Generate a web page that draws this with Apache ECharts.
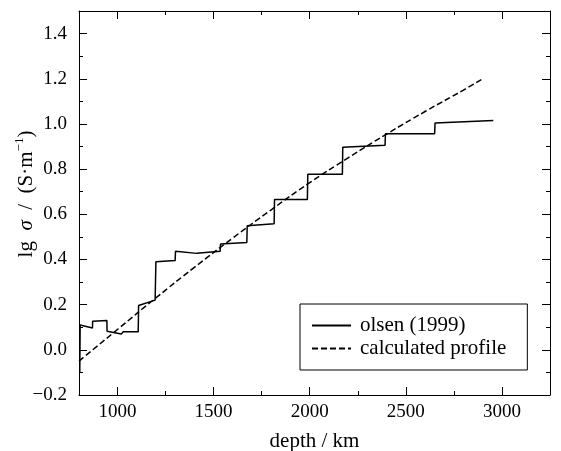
<!DOCTYPE html>
<html lang="en">
<head>
    <meta charset="UTF-8">
    <title>lg sigma vs depth</title>
    <script src="https://cdn.jsdelivr.net/npm/echarts@6.0.0/dist/echarts.min.js"></script>
    <style>
        html, body { margin: 0; padding: 0; background: #fff; }
    </style>
</head>
<body>
<div id="main" style="width: 561px;height:451px;"></div>

<script type="text/javascript">
    // data
    var olsenDepth = [804, 806, 870, 871, 945, 946, 1020, 1030, 1108, 1110, 1196, 1200, 1300, 1302, 1413, 1534, 1536, 1673, 1675, 1815, 1817, 1988, 1990, 2170, 2172, 2392, 2394, 2650, 2652, 2955];
    var olsenSigma = [-0.10, 0.11, 0.097, 0.127, 0.13, 0.082, 0.07, 0.08, 0.08, 0.196, 0.22, 0.39, 0.395, 0.436, 0.427, 0.436, 0.468, 0.475, 0.549, 0.558, 0.665, 0.665, 0.777, 0.777, 0.897, 0.906, 0.957, 0.957, 1.004, 1.015];

    var calcDepth = [800, 1000, 1200, 1400, 1600, 1800, 2000, 2200, 2400, 2600, 2800, 2900];
    var calcSigma = [-0.05, 0.09, 0.23, 0.365, 0.495, 0.62, 0.74, 0.85, 0.955, 1.055, 1.15, 1.20];

    var xMajor = [1000, 1500, 2000, 2500, 3000];
    var xMinor = [1250, 1750, 2250, 2750];

    function pairs(xs, ys) {
        var out = [];
        for (var i = 0; i < xs.length; i++) {
            out.push([xs[i], ys[i]]);
        }
        return out;
    }

    var font = 'Liberation Serif, Times New Roman, serif';
    var myChart = echarts.init(document.getElementById('main'));

    function xAx(pos, ticks, len, showLine, showLabel, name) {
        return {
            type: 'value',
            position: pos,
            min: 800,
            max: 3250,
            name: name || '',
            nameLocation: 'middle',
            nameGap: 36,
            nameMoveOverlap: false,
            nameTextStyle: { color: '#000', fontFamily: font, fontSize: 21 },
            axisLine: { show: showLine, onZero: false, lineStyle: { color: '#000', width: 1 } },
            axisTick: { show: true, inside: true, length: len, customValues: ticks, lineStyle: { color: '#000', width: 1 } },
            axisLabel: {
                show: showLabel, customValues: ticks, margin: 8, color: '#000', fontFamily: font, fontSize: 19,
                formatter: function (v) { return String(v); }
            },
            splitLine: { show: false }
        };
    }

    function yAx(pos, showLabel, name) {
        return {
            type: 'value',
            position: pos,
            min: -0.2,
            max: 1.5,
            interval: 0.2,
            name: name || '',
            nameLocation: 'middle',
            nameGap: 40,
            nameRotate: 90,
            nameMoveOverlap: false,
            nameTextStyle: {
                color: '#000',
                fontFamily: font,
                fontSize: 21,
                padding: [0, 0, 0, 18],
                rich: {
                    n: { fontFamily: font, fontSize: 21, lineHeight: 26, color: '#000' },
                    i: { fontFamily: font, fontSize: 21, fontStyle: 'italic', lineHeight: 26, color: '#000' },
                    s: { fontFamily: font, fontSize: 13, lineHeight: 14, verticalAlign: 'top', color: '#000' }
                }
            },
            axisLine: { show: true, onZero: false, lineStyle: { color: '#000', width: 1 } },
            axisTick: { show: true, inside: true, length: 8, lineStyle: { color: '#000', width: 1 } },
            minorTick: { show: true, splitNumber: 2, length: 4, lineStyle: { color: '#000', width: 1 } },
            axisLabel: {
                show: showLabel,
                margin: 12,
                color: '#000',
                fontFamily: font,
                fontSize: 19,
                showMaxLabel: false,
                formatter: function (v) {
                    var s = v.toFixed(1);
                    return s.charAt(0) === '-' ? '\u2212' + s.slice(1) : s;
                }
            },
            splitLine: { show: false },
            minorSplitLine: { show: false }
        };
    }

    var option = {
        animation: false,
        backgroundColor: '#fff',
        grid: { left: 79, right: 11, top: 11, bottom: 56, containLabel: false, outerBoundsMode: 'none' },
        legend: {
            left: 300,
            top: 304,
            orient: 'vertical',
            padding: [11, 21, 11, 11],
            itemWidth: 39,
            itemHeight: 20,
            itemGap: 2,
            borderColor: '#000',
            borderWidth: 1,
            backgroundColor: '#fff',
            itemStyle: { color: 'transparent', borderWidth: 0, opacity: 0 },
            textStyle: { color: '#000', fontFamily: font, fontSize: 21, padding: [0, 0, 0, 4] },
            data: ['olsen (1999)', 'calculated profile']
        },
        xAxis: [
            xAx('bottom', xMajor, 8, true, true, 'depth / km'),
            xAx('bottom', xMinor, 4, false, false),
            xAx('top', xMajor, 8, true, false),
            xAx('top', xMinor, 4, false, false)
        ],
        yAxis: [
            yAx('left', true, '{n|lg  }{i|\u03c3}{n|  /  (S\u00b7m}{s|\u22121}{n|)}'),
            yAx('right', false)
        ],
        series: [
            {
                name: 'olsen (1999)',
                type: 'line',
                symbol: 'none',
                xAxisIndex: 0,
                yAxisIndex: 0,
                lineStyle: { color: '#000', width: 1.5 },
                itemStyle: { color: '#000' },
                data: pairs(olsenDepth, olsenSigma)
            },
            {
                name: 'calculated profile',
                type: 'line',
                symbol: 'none',
                smooth: true,
                xAxisIndex: 0,
                yAxisIndex: 0,
                lineStyle: { color: '#000', width: 1.5, type: [6, 3] },
                itemStyle: { color: '#000' },
                data: pairs(calcDepth, calcSigma)
            }
        ]
    };
    myChart.setOption(option);
</script>
</body>
</html>
